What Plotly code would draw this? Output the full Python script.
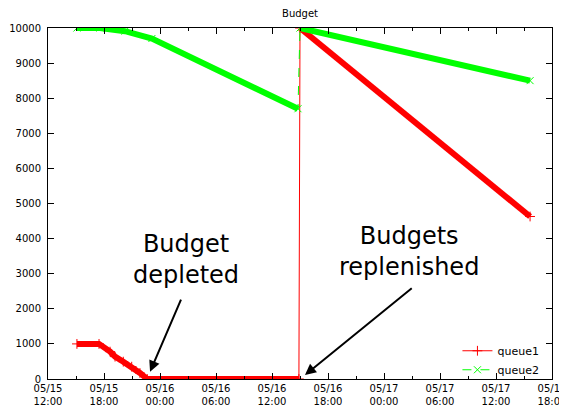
import plotly.graph_objects as go

# queue1 data (before / after the budget replenish)
q1_before_time = ["2011-05-15 15:06", "2011-05-15 17:28", "2011-05-15 18:39", "2011-05-15 19:11",
                  "2011-05-15 20:04", "2011-05-15 20:58", "2011-05-15 21:51", "2011-05-15 22:38",
                  "2011-05-16 14:53"]
q1_before_value = [1000, 1000, 780, 637, 494, 351, 171, 0, 0]
q1_after_time = ["2011-05-16 15:00", "2011-05-17 15:39"]
q1_after_value = [10000, 4630]

# queue2 data
q2_before_time = ["2011-05-15 15:06", "2011-05-15 17:34", "2011-05-15 20:15", "2011-05-15 23:08",
                  "2011-05-16 14:47"]
q2_before_value = [10000, 10000, 9910, 9700, 7700]
q2_after_time = ["2011-05-16 15:00", "2011-05-17 15:39"]
q2_after_value = [10000, 8500]

x_range = ["2011-05-15 12:00", "2011-05-17 18:00"]
y_range = [0, 10000]

FONT = "DejaVu Sans"
RED = "#ff0000"
GREEN = "#00ff00"


def add_queue(fig, name, t0, v0, t1, v1, color, symbol, dash):
    # thin line through all points (also gives the legend sample)
    fig.add_trace(go.Scatter(
        x=t0 + t1, y=v0 + v1, name=name, mode="lines+markers",
        line=dict(color=color, width=1, dash=dash),
        marker=dict(symbol=symbol, size=7, color=color, line=dict(color=color, width=1)),
    ))
    # thick band for the dense segments, broken at the jump
    fig.add_trace(go.Scatter(
        x=t0 + [None] + t1, y=v0 + [None] + v1, mode="lines",
        line=dict(color=color, width=6), showlegend=False, hoverinfo="skip",
    ))


fig = go.Figure()
add_queue(fig, "queue1", q1_before_time, q1_before_value, q1_after_time, q1_after_value,
          RED, "cross-thin", "solid")
add_queue(fig, "queue2", q2_before_time, q2_before_value, q2_after_time, q2_after_value,
          GREEN, "x-thin", "dash")

# Text callouts with arrows
fig.add_annotation(x="2011-05-16 02:50", y=3400, text="Budget<br>depleted", showarrow=False,
                   font=dict(family=FONT, size=24, color="black"), yanchor="middle")
fig.add_annotation(x="2011-05-17 02:40", y=3620, text="Budgets<br>replenished", showarrow=False,
                   font=dict(family=FONT, size=24, color="black"), yanchor="middle")
fig.add_annotation(x="2011-05-15 22:56", y=209, ax="2011-05-16 02:19", ay=2306,
                   axref="x", ayref="y", text="", showarrow=True,
                   arrowhead=2, arrowsize=1.1, arrowwidth=2, arrowcolor="black", standoff=0)
fig.add_annotation(x="2011-05-16 15:32", y=114, ax="2011-05-17 03:08", ay=2620,
                   axref="x", ayref="y", text="", showarrow=True,
                   arrowhead=2, arrowsize=1.1, arrowwidth=2, arrowcolor="black", standoff=0)

axis_common = dict(
    showline=True, linecolor="black", linewidth=1, mirror="ticks",
    ticks="inside", ticklen=6, tickcolor="black", showgrid=False, zeroline=False,
    tickfont=dict(family=FONT, size=10, color="black"), automargin=False,
)

fig.update_xaxes(
    range=x_range, type="date", tick0="2011-05-15 00:00", dtick=6 * 3600 * 1000,
    tickformat="%m/%d<br>%H:%M",
    minor=dict(dtick=3 * 3600 * 1000, ticks="inside", ticklen=3, tickcolor="black"),
    **axis_common,
)
fig.update_yaxes(range=y_range, dtick=1000, tickformat="d", ticklabelstandoff=4, **axis_common)

# the page body has an 8px margin, so the figure is 8px smaller than the window
fig.update_layout(
    width=559, height=403,
    margin=dict(l=40, r=15, t=20, b=32, autoexpand=False),
    plot_bgcolor="white", paper_bgcolor="white",
    title=dict(text="Budget", xref="paper", x=0.5, xanchor="center",
               yref="container", y=0.994, yanchor="top",
               font=dict(family=FONT, size=10, color="black")),
    legend=dict(x=0.985, xanchor="right", y=-0.015, yanchor="bottom",
                bgcolor="rgba(0,0,0,0)", font=dict(family=FONT, size=11, color="black"),
                tracegroupgap=0, itemwidth=30),
    font=dict(family=FONT),
)

fig.write_html("out.html")
